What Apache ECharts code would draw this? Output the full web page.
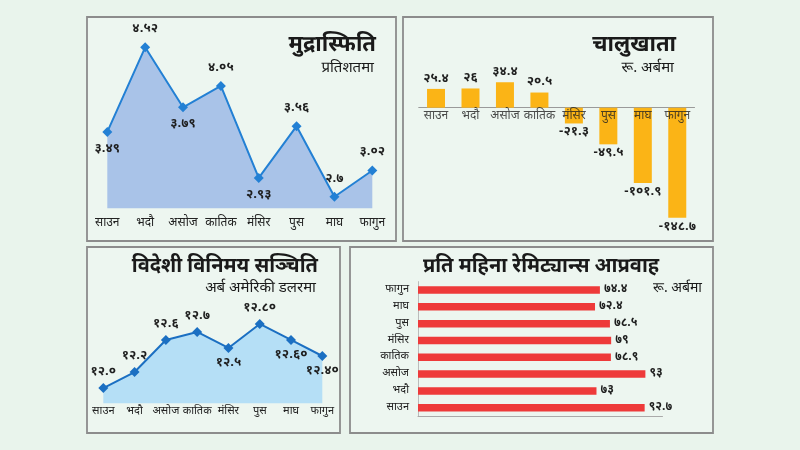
<!DOCTYPE html>
<html><head><meta charset="utf-8">
<script src="https://cdn.jsdelivr.net/npm/echarts@6/dist/echarts.min.js"></script>
<style>html,body{margin:0;padding:0;background:#e9f4ec}#c{width:800px;height:450px}</style>
</head><body><div id="c"></div>
<script>
// ---- data ----
const months = ['साउन','भदौ','असोज','कातिक','मंसिर','पुस','माघ','फागुन'];
const inflation = [3.49, 4.52, 3.79, 4.05, 2.93, 3.56, 2.7, 3.02];
const inflationText = ['३.४९','४.५२','३.७९','४.०५','२.९३','३.५६','२.७','३.०२'];
const currentAccount = [25.4, 26, 34.4, 20.5, -21.3, -49.5, -101.9, -148.7];
const currentAccountText = ['२५.४','२६','३४.४','२०.५','-२१.३','-४९.५','-१०१.९','-१४८.७'];
const reserves = [12.0, 12.2, 12.6, 12.7, 12.5, 12.8, 12.6, 12.4];
const reservesText = ['१२.०','१२.२','१२.६','१२.७','१२.५','१२.८०','१२.६०','१२.४०'];
const remittance = [92.7, 73, 93, 78.9, 79, 78.5, 72.4, 74.4];
const remittanceText = ['९२.७','७३','९३','७८.९','७९','७८.५','७२.४','७४.४'];

// ---- layout / style ----
const FONT = "'Noto Sans Devanagari','Noto Sans',sans-serif";
const inflPos = ['bottom','top','bottom','top','bottom','top','top','top'];
const resPos = ['top','top','top','top','bottom','top','bottom','bottom'];

const chart = echarts.init(document.getElementById('c'), null, {renderer:'canvas'});

function panel(x, y, w, h) {
  return {type:'rect', z:-10, shape:{x:x, y:y, width:w, height:h},
    style:{fill:'#edf6f0', stroke:'#8c8c8c', lineWidth:1.8}};
}
function txt(x, y, s, size, bold, align) {
  return {type:'text', z:10, x:x, y:y, style:{text:s, fill:'#1a1a1a', font:(bold?'bold ':'')+size+'px '+FONT,
    textAlign:align||'right', textVerticalAlign:'middle'}};
}
const lblStyle = {color:'#1e1e1e', fontWeight:'bold', fontSize:13, fontFamily:FONT};
const catLabel = {color:'#222', fontSize:12, fontFamily:FONT};

const option = {
  backgroundColor:'#e9f4ec',
  animation:false,
  graphic:[
    panel(87,17,309,224), panel(403,17,310,224), panel(87,247,253,186), panel(350,247,363,186),
    txt(376,47,'मुद्रास्फिति',22,true), txt(374,69,'प्रतिशतमा',15,false),
    txt(676,47,'चालुखाता',22,true), txt(674,69,'रू. अर्बमा',15,false),
    txt(318,268,'विदेशी विनिमय सञ्चिति',20,true), txt(316,289,'अर्ब अमेरिकी डलरमा',15,false),
    txt(541,268,'प्रति महिना रेमिट्यान्स आप्रवाह',20,true,'center'), txt(702,289,'रू. अर्बमा',14,false)
  ],
  grid:[
    {left:107.3, width:265, top:24.3, height:184},
    {left:418.8, width:275.7, top:70.7, height:155.4},
    {left:103.3, width:219, top:307.9, height:95.4},
    {left:418, width:244.5, top:281.6, height:134.5}
  ],
  xAxis:[
    {gridIndex:0, type:'category', data:months, boundaryGap:false, axisLine:{show:false}, axisTick:{show:false},
      axisLabel:Object.assign({margin:9, interval:0}, catLabel)},
    {gridIndex:1, type:'category', data:months, axisLine:{onZero:true, lineStyle:{color:'#9a9a9a', width:1.2}}, axisTick:{show:false},
      axisLabel:{show:false}},
    {gridIndex:2, type:'category', data:months, boundaryGap:false, axisLine:{show:false}, axisTick:{show:false},
      axisLabel:Object.assign({margin:3, interval:0}, catLabel, {fontSize:11})},
    {gridIndex:3, type:'value', min:0, max:100, axisLabel:{show:false}, splitLine:{show:false},
      axisLine:{show:true, lineStyle:{color:'#aaaaaa', width:1}}, axisTick:{show:false}}
  ],
  yAxis:[
    {gridIndex:0, type:'value', min:2.56, max:4.8, show:false},
    {gridIndex:1, type:'value', min:-160, max:50, show:false},
    {gridIndex:2, type:'value', min:11.81, max:13.0, show:false},
    {gridIndex:3, type:'category', data:months, axisTick:{show:false},
      axisLine:{show:true, lineStyle:{color:'#bbbbbb', width:1}},
      axisLabel:Object.assign({margin:9, interval:0}, catLabel, {fontSize:11})}
  ],
  series:[
    {type:'line', xAxisIndex:0, yAxisIndex:0, symbol:'diamond', symbolSize:10,
      lineStyle:{color:'#2380d4', width:2}, itemStyle:{color:'#2380d4'},
      areaStyle:{color:'#a9c3e8', opacity:1},
      data:inflation.map((v,i)=>({value:v, label:{position:inflPos[i]}})),
      label:Object.assign({show:true, distance:6, formatter:p=>inflationText[p.dataIndex]}, lblStyle)},
    {type:'bar', xAxisIndex:1, yAxisIndex:1, barWidth:18, itemStyle:{color:'#fbb416'},
      data:currentAccount.map(v=>({value:v, label:{position: v>=0?'top':'bottom'}})),
      label:Object.assign({show:true, distance:3, formatter:p=>currentAccountText[p.dataIndex]}, lblStyle)},
    {type:'scatter', xAxisIndex:1, yAxisIndex:1, z:10, symbolSize:0, silent:true,
      data:months.map(()=>0),
      label:Object.assign({show:true, position:'bottom', distance:3, formatter:p=>months[p.dataIndex]}, catLabel)},
    {type:'line', xAxisIndex:2, yAxisIndex:2, symbol:'diamond', symbolSize:10,
      lineStyle:{color:'#1b6fc2', width:2}, itemStyle:{color:'#1b6fc2'},
      areaStyle:{color:'#b5dff6', opacity:1},
      data:reserves.map((v,i)=>({value:v, label:{position:resPos[i]}})),
      label:Object.assign({show:true, distance:4, formatter:p=>reservesText[p.dataIndex]}, lblStyle)},
    {type:'bar', xAxisIndex:3, yAxisIndex:3, barWidth:7.5, itemStyle:{color:'#ee3a3a'},
      data:remittance,
      label:Object.assign({show:true, position:'right', distance:4, formatter:p=>remittanceText[p.dataIndex]}, lblStyle, {fontSize:12})}
  ]
};
chart.setOption(option);
</script></body></html>
